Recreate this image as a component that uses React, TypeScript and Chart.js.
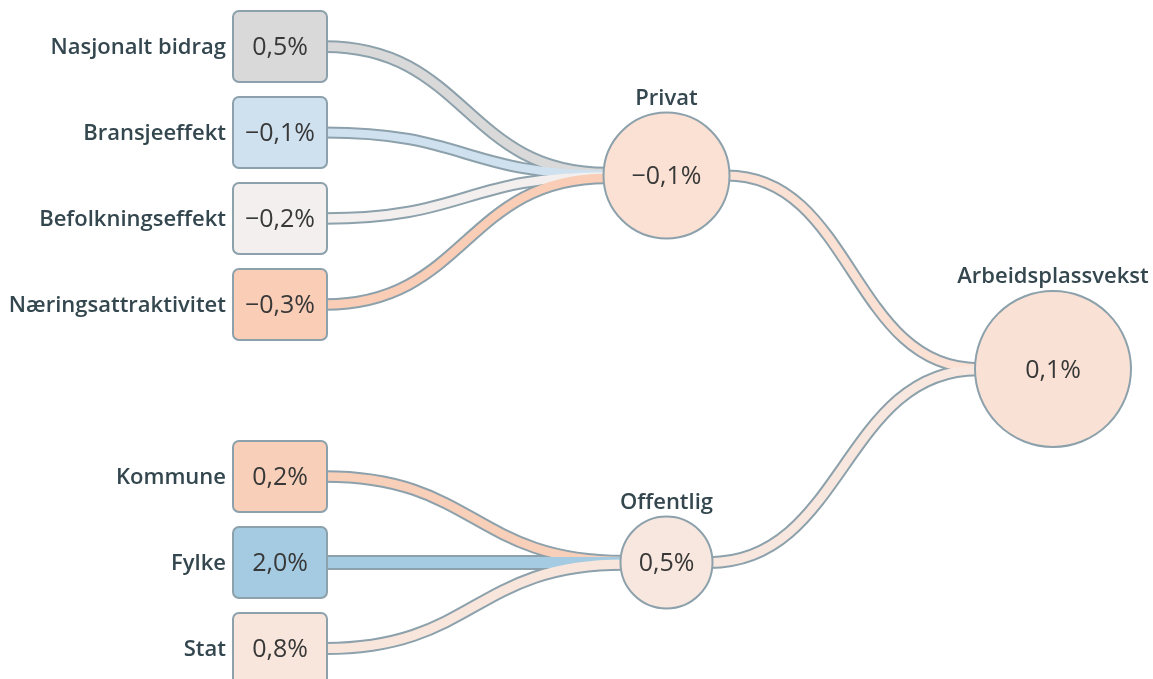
import React, { useEffect, useRef } from "react";
import { Chart, registerables } from "chart.js";

Chart.register(...registerables);

// ---------- Data ----------
const privatLabels = ["Nasjonalt bidrag", "Bransjeeffekt", "Befolkningseffekt", "Næringsattraktivitet"];
const privatValues = [0.5, -0.1, -0.2, -0.3];
const privatColors = ["#d9d9d9", "#cfe1ef", "#f2efee", "#f9cdb6"];

const offentligLabels = ["Kommune", "Fylke", "Stat"];
const offentligValues = [0.2, 2.0, 0.8];
const offentligColors = ["#f8cfb9", "#a4cbe1", "#f8e6dc"];

const groupLabels = ["Privat", "Offentlig"];
const groupValues = [-0.1, 0.5];
const groupColors = ["#fae1d4", "#f8e7de"];

const totalLabel = "Arbeidsplassvekst";
const totalValue = 0.1;
const totalColor = "#f9e2d5";

// ---------- Layout / style ----------
const W = 1153;
const H = 679;
const BORDER = "#8ca1ab";
const LABEL_COLOR = "#34474f";
const VALUE_COLOR = "#383838";
const BOX_W = 94;
const BOX_H = 71;
const GROUP_RADII = [63, 46];
const TOTAL_RADIUS = 78;
const LABEL_FONT_SIZE = 22;
const VALUE_FONT_SIZE = 25;
const FONT = "'Open Sans', 'Noto Sans', sans-serif";

const fmt = (v: number) => (v < 0 ? "\u2212" : "") + Math.abs(v).toFixed(1).replace(".", ",") + "%";

// tree structure: rows of sources; parents sit at the mean of their children
const groups = [
  { labels: privatLabels, values: privatValues, colors: privatColors },
  { labels: offentligLabels, values: offentligValues, colors: offentligColors },
];
const sourceRows: number[][] = [];
{
  let r = 0;
  groups.forEach((g) => {
    const rows: number[] = [];
    g.labels.forEach(() => rows.push(r++));
    sourceRows.push(rows);
    r++; // gap row between groups
  });
}
const groupRows = sourceRows.map((rows) => rows.reduce((a, b) => a + b, 0) / rows.length);
const totalRow = groupRows.reduce((a, b) => a + b, 0) / groupRows.length;

const flowWidth = (v: number) => 8 + Math.abs(v) * 1.5;

export default function App() {
  const ref = useRef<HTMLCanvasElement | null>(null);

  useEffect(() => {
    if (!ref.current) return;

    const labelFont = `600 ${LABEL_FONT_SIZE}px ${FONT}`;
    const valueFont = `400 ${VALUE_FONT_SIZE}px ${FONT}`;

    const drawFlow = (ctx: CanvasRenderingContext2D, x0: number, y0: number, x1: number, y1: number) => {
      const mx = (x0 + x1) / 2;
      ctx.beginPath();
      ctx.moveTo(x0, y0);
      ctx.bezierCurveTo(mx, y0, mx, y1, x1, y1);
    };

    const flowsPlugin = {
      id: "flows",
      beforeDatasetsDraw(chart: any) {
        const ctx: CanvasRenderingContext2D = chart.ctx;
        const xs = chart.scales.x;
        const ys = chart.scales.y;
        const flows: { x0: number; y0: number; x1: number; y1: number; w: number; c: string }[] = [];
        groups.forEach((g, gi) => {
          const tx = xs.getPixelForValue(1) - GROUP_RADII[gi] + 3;
          const ty = ys.getPixelForValue(groupRows[gi]);
          const n = g.labels.length;
          g.values.forEach((v, i) => {
            const sx = xs.getPixelForValue(0) + BOX_W / 2 - 2;
            const sy = ys.getPixelForValue(sourceRows[gi][i]);
            flows.push({ x0: sx, y0: sy, x1: tx, y1: ty + (i - (n - 1) / 2) * 1.6, w: flowWidth(v), c: g.colors[i] });
          });
        });
        const ttx = xs.getPixelForValue(2) - TOTAL_RADIUS + 3;
        const tty = ys.getPixelForValue(totalRow);
        groupValues.forEach((v, gi) => {
          const sx = xs.getPixelForValue(1) + GROUP_RADII[gi] - 3;
          const sy = ys.getPixelForValue(groupRows[gi]);
          flows.push({ x0: sx, y0: sy, x1: ttx, y1: tty + (gi - 0.5) * 1.6, w: flowWidth(v), c: groupColors[gi] });
        });
        ctx.save();
        ctx.lineCap = "butt";
        flows.forEach((f) => {
          drawFlow(ctx, f.x0, f.y0, f.x1, f.y1);
          ctx.strokeStyle = BORDER;
          ctx.lineWidth = f.w + 4;
          ctx.stroke();
        });
        flows.forEach((f) => {
          drawFlow(ctx, f.x0, f.y0, f.x1, f.y1);
          ctx.strokeStyle = f.c;
          ctx.lineWidth = f.w;
          ctx.stroke();
        });
        ctx.restore();
      },
      afterDatasetsDraw(chart: any) {
        const ctx: CanvasRenderingContext2D = chart.ctx;
        const xs = chart.scales.x;
        const ys = chart.scales.y;
        ctx.save();
        // source boxes
        groups.forEach((g, gi) => {
          g.labels.forEach((lab, i) => {
            const cx = xs.getPixelForValue(0);
            const cy = ys.getPixelForValue(sourceRows[gi][i]);
            ctx.beginPath();
            (ctx as any).roundRect(cx - BOX_W / 2, cy - BOX_H / 2, BOX_W, BOX_H, 6);
            ctx.fillStyle = g.colors[i];
            ctx.fill();
            ctx.lineWidth = 2;
            ctx.strokeStyle = BORDER;
            ctx.stroke();
            ctx.textBaseline = "alphabetic";
            ctx.textAlign = "center";
            ctx.font = valueFont;
            ctx.fillStyle = VALUE_COLOR;
            ctx.fillText(fmt(g.values[i]), cx, cy + VALUE_FONT_SIZE * 0.357);
            ctx.textAlign = "right";
            ctx.font = labelFont;
            ctx.fillStyle = LABEL_COLOR;
            ctx.fillText(lab, cx - BOX_W / 2 - 7, cy + LABEL_FONT_SIZE * 0.357);
          });
        });
        // circle texts
        const circles = [
          ...groupLabels.map((l, gi) => ({ l, v: groupValues[gi], x: 1, y: groupRows[gi], r: GROUP_RADII[gi] })),
          { l: totalLabel, v: totalValue, x: 2, y: totalRow, r: TOTAL_RADIUS },
        ];
        circles.forEach((c) => {
          const cx = xs.getPixelForValue(c.x);
          const cy = ys.getPixelForValue(c.y);
          ctx.textAlign = "center";
          ctx.textBaseline = "alphabetic";
          ctx.font = valueFont;
          ctx.fillStyle = VALUE_COLOR;
          ctx.fillText(fmt(c.v), cx, cy + VALUE_FONT_SIZE * 0.357);
          ctx.font = labelFont;
          ctx.fillStyle = LABEL_COLOR;
          ctx.fillText(c.l, cx, cy - c.r - 8);
        });
        ctx.restore();
      },
    };

    const chart = new Chart(ref.current, {
      type: "scatter",
      data: {
        datasets: [
          {
            data: [
              ...groupRows.map((r) => ({ x: 1, y: r })),
              { x: 2, y: totalRow },
            ],
            pointRadius: [...GROUP_RADII, TOTAL_RADIUS],
            pointHoverRadius: [...GROUP_RADII, TOTAL_RADIUS],
            pointBackgroundColor: [...groupColors, totalColor],
            pointBorderColor: BORDER,
            pointBorderWidth: 2,
            pointHoverBorderWidth: 2,
            clip: false,
          } as any,
        ],
      },
      plugins: [flowsPlugin],
      options: {
        animation: false,
        responsive: false,
        maintainAspectRatio: false,
        events: [],
        layout: { padding: 0, autoPadding: false } as any,
        plugins: { legend: { display: false }, tooltip: { enabled: false } },
        scales: {
          x: { type: "linear", display: false, min: -280 / 386.5, max: (W - 280) / 386.5 },
          y: { type: "linear", display: false, reverse: true, min: -46.5 / 86, max: (H - 46.5) / 86 },
        },
      },
    });
    return () => chart.destroy();
  }, []);

  return (
    <div style={{ position: "absolute", left: 0, top: 0, width: W, height: H, background: "#fff" }}>
      <canvas ref={ref} width={W} height={H} style={{ width: W, height: H, display: "block" }} />
    </div>
  );
}
